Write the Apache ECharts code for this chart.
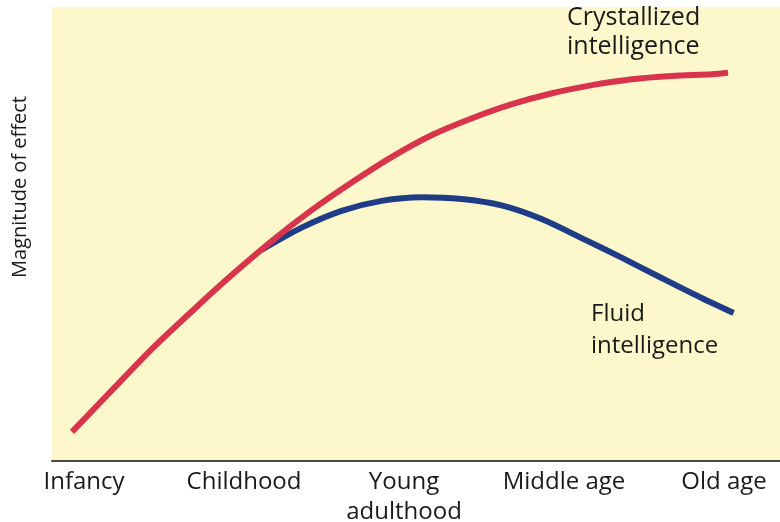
<!DOCTYPE html>
<html>
<head>
<meta charset="utf-8">
<script src="https://cdn.jsdelivr.net/npm/echarts@6/dist/echarts.min.js"></script>
<style>html,body{margin:0;padding:0;background:#fff}#c{width:780px;height:522px}</style>
</head>
<body>
<div id="c"></div>
<script>
const stages = ["Infancy", "Childhood", "Young\nadulthood", "Middle age", "Old age"];
const stagePos = [0, 1, 2, 3, 4];
const crystallized = [
  [-0.075, 6.4], [0.175, 15.6], [0.425, 24.7], [0.675, 33.0], [0.925, 41.0],
  [1.175, 48.5], [1.425, 55.3], [1.675, 61.4], [1.925, 67.0], [2.175, 71.8],
  [2.425, 75.5], [2.675, 78.6], [2.925, 81.0], [3.175, 82.8], [3.425, 84.1],
  [3.675, 84.8], [3.925, 85.2], [4.025, 85.5]
];
const fluid = [
  [1.11, 46.5], [1.36, 51.4], [1.61, 55.1], [1.86, 57.3], [2.11, 58.1],
  [2.36, 57.7], [2.61, 56.3], [2.86, 53.3], [3.11, 49.1], [3.36, 44.8],
  [3.61, 40.3], [3.86, 35.9], [4.06, 32.6]
];
const yAxisTitle = "Magnitude of effect";
const annotations = ["Crystallized\nintelligence", "Fluid\nintelligence"];

const chart = echarts.init(document.getElementById('c'), null, {renderer: 'canvas'});
const font = '"Open Sans", "Noto Sans", sans-serif';
chart.setOption({
  animation: false,
  backgroundColor: '#ffffff',
  grid: {left: 52, right: 0, top: 7, bottom: 61, show: true, backgroundColor: '#fcf8cb', borderWidth: 0,
         containLabel: false, outerBoundsMode: 'none'},
  xAxis: {
    type: 'value', min: -0.2, max: 4.35,
    splitLine: {show: false},
    axisLine: {show: true, lineStyle: {color: '#4a4a44', width: 2}},
    axisTick: {show: false},
    axisLabel: {
      customValues: stagePos,
      formatter: v => stages[Math.round(v)],
      color: '#1a1a1a', fontSize: 24, fontFamily: font, margin: 6, lineHeight: 30
    }
  },
  yAxis: {
    type: 'value', min: 0, max: 100,
    splitLine: {show: false}, axisLine: {show: false}, axisTick: {show: false}, axisLabel: {show: false}
  },
  series: [
    {type: 'line', data: fluid, smooth: 0.3, symbol: 'none', z: 2,
     lineStyle: {color: '#1f3c86', width: 6, cap: 'butt'}},
    {type: 'line', data: crystallized, smooth: 0.3, symbol: 'none', z: 3,
     lineStyle: {color: '#d8344c', width: 6, cap: 'butt'}}
  ],
  graphic: [
    {type: 'text', x: 20, y: 187, rotation: Math.PI / 2, z: 10,
     style: {text: yAxisTitle, fill: '#1a1a1a', font: '20px ' + font, textAlign: 'center', textVerticalAlign: 'middle'}},
    {type: 'text', left: 567, top: 3, z: 10, style: {text: annotations[0], fill: '#1a1a1a', font: '25px ' + font, lineHeight: 29}},
    {type: 'text', left: 591, top: 298, z: 10, style: {text: annotations[1], fill: '#1a1a1a', font: '24px ' + font, lineHeight: 32}}
  ]
});
</script>
</body>
</html>
